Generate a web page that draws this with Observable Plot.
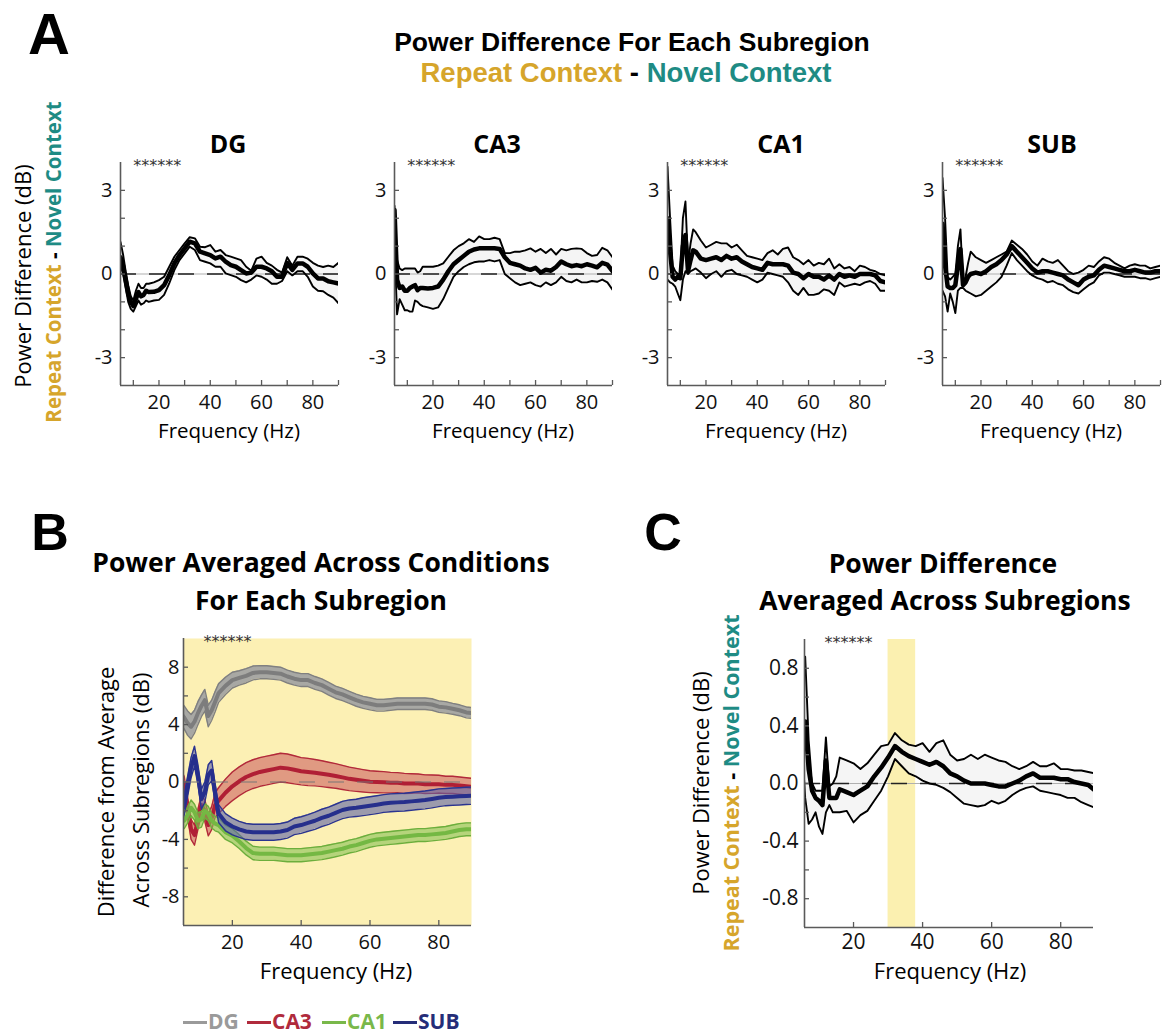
<!DOCTYPE html>
<html><head><meta charset="utf-8">
<script src="https://cdn.jsdelivr.net/npm/d3@7"></script>
<script src="https://cdn.jsdelivr.net/npm/@observablehq/plot@0.6"></script>
<style>
html,body{margin:0;padding:0;background:#fff;}
#fig{position:relative;width:1163px;height:1036px;overflow:hidden;font-family:"Open Sans",Lato,sans-serif;color:#000;}
.abs{position:absolute;white-space:nowrap;line-height:0.85;}
.letter{position:absolute;font-family:"Liberation Sans",Arial,sans-serif;font-weight:700;line-height:1.117;transform:translateX(-50%);}
</style></head>
<body><div id="fig"></div>
<script>
// ---------------- DATA ----------------
const freq = [5,6,7,8,9,10,11,12,13,14,15,16,
  18,20,22,24,26,28,30,32,34,36,38,40,
  42,44,46,48,50,52,54,56,58,60,62,64,
  66,68,70,72,74,76,78,80,82,84,86,88,90];

// Panel A: Repeat - Novel power difference (dB), mean and upper/lower bounds
const dgMean = [0.6,0.3,-0.2,-0.7,-1.0,-1.15,-0.9,-0.65,-0.8,-0.75,-0.6,-0.65,
  -0.64,-0.58,-0.4,-0.04,0.38,0.68,0.92,1.16,1.1,0.8,0.74,0.68,
  0.56,0.62,0.44,0.32,0.26,0.14,0.02,0.05,0.26,0.26,0.2,0.1,
  -0.1,-0.1,0.4,0.15,0.38,0.38,0.26,0.02,-0.16,-0.16,-0.26,-0.3,-0.34];
const dgUpper = [1.15,0.7,0.1,-0.4,-0.8,-0.95,-0.6,-0.35,-0.5,-0.5,-0.35,-0.35,
  -0.3,-0.22,-0.1,0.26,0.62,0.86,1.1,1.32,1.28,0.98,0.96,1.04,
  0.8,0.86,0.68,0.62,0.56,0.5,0.26,0.12,0.55,0.62,0.4,0.3,
  0.15,0.05,0.6,0.3,0.62,0.62,0.55,0.4,0.3,0.25,0.3,0.25,0.4];
const dgLower = [0.3,0.0,-0.5,-1.0,-1.25,-1.35,-1.15,-0.95,-1.1,-1.05,-0.95,-1.0,
  -0.95,-0.93,-0.75,-0.34,0.14,0.5,0.74,0.98,0.86,0.5,0.44,0.38,
  0.26,0.26,0.02,-0.04,-0.1,-0.22,-0.3,-0.2,-0.05,-0.1,-0.2,-0.35,
  -0.35,-0.25,0.1,-0.05,0.1,0.1,-0.1,-0.45,-0.6,-0.62,-0.75,-0.85,-1.05];

const ca3Mean = [2.3,-0.2,-0.5,-0.45,-0.6,-0.6,-0.5,-0.45,-0.4,-0.58,-0.5,-0.5,
  -0.52,-0.5,-0.45,-0.2,0.1,0.35,0.5,0.65,0.8,0.88,0.92,0.92,
  0.92,0.92,0.9,0.6,0.4,0.35,0.3,0.2,0.15,0.22,0.05,0.15,
  0.12,0.25,0.45,0.35,0.28,0.32,0.28,0.35,0.3,0.24,0.4,0.34,0.1];
const ca3Upper = [2.45,0.5,0.2,0.14,0.2,0.2,0.2,0.2,0.2,0.05,0.1,0.26,
  0.26,0.26,0.3,0.38,0.62,0.85,1.0,1.1,1.25,1.15,1.35,1.25,
  1.25,1.3,1.25,0.75,0.75,0.8,0.8,0.85,0.92,0.8,0.9,0.75,
  0.9,0.7,0.9,0.85,0.9,0.92,0.9,0.75,0.65,0.68,0.94,0.85,0.6];
const ca3Lower = [1.0,-1.45,-0.9,-1.1,-1.3,-1.3,-1.35,-1.35,-0.95,-1.0,-1.1,-1.15,
  -1.2,-1.25,-1.2,-0.9,-0.5,-0.1,0.1,0.25,0.35,0.42,0.45,0.45,
  0.5,0.45,0.5,0.0,-0.15,-0.3,-0.4,-0.35,-0.3,-0.4,-0.45,-0.3,
  -0.4,-0.3,-0.1,-0.25,-0.3,-0.2,-0.3,-0.3,-0.25,-0.28,-0.2,-0.3,-0.56];

const ca1Mean = [2.0,0.8,-0.1,-0.2,-0.1,-0.15,1.0,1.4,0.1,0.5,0.85,0.8,
  0.55,0.5,0.55,0.6,0.5,0.65,0.55,0.6,0.45,0.35,0.25,0.2,
  0.15,0.4,0.35,0.35,0.35,0.3,0.05,0.0,-0.15,0.0,-0.1,-0.1,
  -0.2,-0.05,-0.2,0.0,-0.1,-0.05,-0.1,0.0,0.0,0.0,-0.05,-0.25,-0.3];
const ca1Upper = [3.85,2.0,0.3,0.1,0.0,0.0,2.0,2.6,0.4,1.1,1.6,1.5,
  1.2,0.95,1.05,1.15,1.1,1.1,0.95,1.05,0.85,0.65,0.6,0.55,
  0.5,0.75,0.85,0.7,0.9,0.95,0.6,0.5,0.35,0.5,0.3,0.4,
  0.35,0.55,0.2,0.35,0.2,0.25,0.1,0.3,0.25,0.15,0.1,0.0,-0.05];
const ca1Lower = [-0.2,-0.3,-0.35,-0.45,-0.7,-0.94,-0.2,0.1,0.0,0.1,0.15,0.2,
  0.05,-0.15,0.0,0.1,-0.1,0.1,0.15,0.0,-0.05,-0.1,-0.2,-0.3,
  -0.2,0.05,0.0,-0.05,-0.1,-0.3,-0.6,-0.75,-0.5,-0.75,-0.75,-0.7,
  -0.55,-0.6,-0.75,-0.3,-0.45,-0.4,-0.35,-0.4,-0.3,-0.25,-0.35,-0.6,-0.6];

const subMean = [1.8,0.3,-0.45,-0.5,-0.5,-0.4,0.3,0.9,-0.4,-0.3,-0.1,0.0,
  0.05,0.0,0.1,0.25,0.35,0.5,0.7,1.0,0.8,0.6,0.4,0.2,
  0.05,0.1,0.1,0.05,0.0,-0.05,-0.2,-0.3,-0.4,-0.2,-0.1,-0.05,
  0.15,0.3,0.25,0.2,0.15,0.1,0.1,0.15,0.1,0.05,0.05,0.1,0.1];
const subUpper = [3.45,2.0,-0.1,-0.2,-0.1,0.0,1.0,1.6,-0.3,-0.1,0.4,0.8,
  0.6,0.5,0.4,0.5,0.6,0.7,0.8,1.2,1.05,0.9,0.7,0.45,
  0.3,0.55,0.45,0.4,0.5,0.3,0.1,0.0,0.05,0.15,0.3,0.25,
  0.45,0.6,0.55,0.4,0.3,0.2,0.3,0.35,0.3,0.3,0.2,0.25,0.3];
const subLower = [-0.6,-0.8,-1.35,-0.7,-1.0,-1.4,-0.6,-0.5,-0.5,-0.6,-0.65,-0.7,
  -0.8,-0.75,-0.6,-0.45,-0.3,-0.1,0.3,0.75,0.5,0.3,0.1,-0.05,
  -0.15,-0.2,-0.3,-0.25,-0.35,-0.4,-0.55,-0.65,-0.7,-0.55,-0.4,-0.3,
  -0.05,0.05,0.05,0.0,-0.05,-0.1,-0.1,-0.1,-0.15,-0.15,-0.2,-0.15,-0.1];

// Panel B: difference from average across subregions (dB), mean and band half-width
const dgB = [4.8,4.5,4.1,3.85,4.2,4.8,5.3,5.7,4.6,5.0,5.6,6.2,
  6.7,7.1,7.25,7.4,7.6,7.65,7.65,7.6,7.55,7.35,7.2,7.1,
  7.1,6.9,6.75,6.5,6.25,6.1,5.9,5.7,5.55,5.45,5.35,5.35,
  5.4,5.45,5.45,5.45,5.45,5.45,5.4,5.25,5.2,5.1,5.0,4.85,4.8];
const dgBErr = [0.8,0.8,0.85,0.85,0.8,0.8,0.75,0.75,0.75,0.7,0.7,0.65,
  0.6,0.55,0.5,0.5,0.48,0.46,0.45,0.45,0.45,0.45,0.45,0.45,
  0.45,0.45,0.44,0.44,0.43,0.43,0.42,0.42,0.42,0.42,0.41,0.41,
  0.4,0.4,0.4,0.4,0.4,0.4,0.4,0.4,0.4,0.38,0.38,0.38,0.38];
const ca3B = [0.2,-0.3,-1.8,-3.3,-3.7,-2.6,-1.6,-2.0,-3.0,-2.5,-1.6,-1.3,
  -0.75,-0.3,0.05,0.35,0.55,0.7,0.8,0.9,1.0,0.95,0.85,0.75,
  0.7,0.65,0.58,0.5,0.42,0.32,0.22,0.15,0.08,0.02,0.0,-0.02,
  -0.05,-0.05,-0.1,-0.1,-0.1,-0.15,-0.15,-0.15,-0.2,-0.2,-0.25,-0.3,-0.35];
const ca3BErr = [0.7,0.7,0.7,0.7,0.7,0.7,0.7,0.75,0.75,0.8,0.85,0.9,
  0.95,1.0,1.0,1.0,1.0,1.0,1.0,1.0,1.0,1.0,0.98,0.95,
  0.95,0.92,0.9,0.88,0.86,0.84,0.82,0.8,0.78,0.76,0.75,0.74,
  0.72,0.7,0.7,0.68,0.66,0.65,0.64,0.62,0.6,0.6,0.6,0.6,0.6];
const ca1B = [-2.7,-2.7,-2.3,-1.8,-2.1,-2.7,-2.6,-2.0,-2.2,-2.7,-2.9,-3.0,
  -3.5,-3.75,-4.15,-4.6,-4.95,-5.0,-5.0,-5.0,-5.05,-5.1,-5.1,-5.1,
  -5.05,-5.0,-4.95,-4.85,-4.75,-4.65,-4.5,-4.4,-4.25,-4.1,-4.0,-3.95,
  -3.9,-3.85,-3.8,-3.75,-3.7,-3.7,-3.65,-3.6,-3.55,-3.45,-3.35,-3.3,-3.3];
const ca1BErr = [0.55,0.55,0.55,0.55,0.55,0.55,0.55,0.5,0.5,0.5,0.5,0.5,
  0.5,0.5,0.48,0.48,0.47,0.46,0.46,0.46,0.46,0.46,0.46,0.46,
  0.46,0.46,0.46,0.46,0.46,0.45,0.45,0.45,0.45,0.45,0.45,0.45,
  0.45,0.45,0.45,0.45,0.45,0.45,0.45,0.45,0.45,0.45,0.45,0.45,0.45];
const subB = [-2.2,-1.6,-0.3,1.0,1.8,0.5,-1.2,-0.7,0.5,0.8,-0.8,-2.2,
  -2.8,-3.1,-3.3,-3.45,-3.5,-3.5,-3.5,-3.5,-3.45,-3.35,-3.1,-3.0,
  -2.85,-2.7,-2.5,-2.35,-2.15,-1.95,-1.85,-1.8,-1.72,-1.65,-1.58,-1.5,
  -1.45,-1.42,-1.4,-1.35,-1.3,-1.25,-1.18,-1.1,-1.05,-1.02,-1.0,-0.97,-0.95];
const subBErr = [0.7,0.7,0.7,0.7,0.7,0.7,0.7,0.7,0.7,0.7,0.65,0.62,
  0.6,0.58,0.56,0.56,0.56,0.56,0.56,0.56,0.56,0.56,0.57,0.58,
  0.58,0.6,0.6,0.6,0.6,0.6,0.6,0.6,0.62,0.62,0.62,0.62,
  0.62,0.62,0.62,0.62,0.62,0.62,0.62,0.62,0.6,0.6,0.6,0.6,0.6];

// Panel C: power difference averaged across subregions (dB)
const cMean = [0.42,0.43,0.1,-0.05,-0.1,-0.12,-0.15,0.16,-0.1,-0.1,-0.1,-0.04,
  -0.06,-0.08,-0.05,-0.02,0.05,0.11,0.18,0.26,0.22,0.19,0.17,0.15,
  0.13,0.15,0.12,0.07,0.05,0.02,0.0,0.0,0.0,-0.01,-0.02,-0.02,
  0.0,0.02,0.05,0.07,0.04,0.04,0.04,0.03,0.03,0.01,0.0,-0.01,-0.05];
const cUpper = [0.6,0.88,0.3,0.0,-0.05,-0.05,-0.05,0.32,-0.02,0.0,0.05,0.18,
  0.16,0.14,0.1,0.14,0.2,0.26,0.27,0.35,0.3,0.27,0.26,0.28,
  0.22,0.28,0.3,0.2,0.16,0.17,0.2,0.17,0.2,0.18,0.16,0.15,
  0.12,0.1,0.12,0.15,0.12,0.12,0.14,0.1,0.1,0.09,0.09,0.08,0.07];
const cLower = [0.3,-0.1,-0.28,-0.25,-0.2,-0.3,-0.35,-0.2,-0.15,-0.2,-0.2,-0.2,
  -0.19,-0.27,-0.22,-0.19,-0.12,-0.05,0.05,0.17,0.12,0.07,0.05,0.02,
  0.0,-0.01,-0.03,-0.06,-0.1,-0.14,-0.15,-0.16,-0.15,-0.12,-0.14,-0.12,
  -0.08,-0.05,-0.03,-0.02,-0.05,-0.06,-0.07,-0.08,-0.1,-0.1,-0.13,-0.15,-0.17];

// tick values / labels
const aXTickLabels = [20,40,60,80];
const aXTickMarks = [10,20,30,40,50,60,70,80,90];
const aYTickLabels = [-3,0,3];
const aYTickMarks = [-3,-2,-1,0,1,2,3];
const bXTicks = [20,40,60,80];
const bYTickLabels = [-8,-4,0,4,8];
const bYTickMarks = [-8,-6,-4,-2,0,2,4,6,8];
const cXTicks = [20,40,60,80];
const cYTickLabels = [-0.8,-0.4,0,0.4,0.8];
const cYTickMarks = [-0.8,-0.6,-0.4,-0.2,0,0.2,0.4,0.6,0.8];
const cHighlight = [{x1:30, x2:38}];
const starsA = [{f:10, t:"******"}];
const starsBC = [{f:11.6, t:"******"}];

// ---------------- DRAWING ----------------
const FONT = '"Open Sans", Lato, sans-serif';
const GOLD = "#D6A52B", TEAL = "#1E8B84";
const fig = document.getElementById("fig");

function addText(html, x, y, o = {}) {
  const d = document.createElement("div");
  d.className = "abs";
  d.innerHTML = html;
  d.style.left = x + "px"; d.style.top = y + "px";
  d.style.fontSize = (o.size || 19) + "px";
  d.style.fontWeight = o.weight || 400;
  d.style.color = o.color || "#000";
  if (o.family) d.style.fontFamily = o.family;
  d.style.transform = "translate(-50%,-50%)" + (o.rotate ? " rotate(-90deg)" : "");
  fig.appendChild(d);
  return d;
}
function addLetter(txt, cx, top, size) {
  const d = document.createElement("div");
  d.className = "letter";
  d.textContent = txt;
  d.style.left = cx + "px"; d.style.top = top + "px"; d.style.fontSize = size + "px";
  fig.appendChild(d);
}
function place(svg, left, top) {
  svg.style.position = "absolute";
  svg.style.left = left + "px"; svg.style.top = top + "px";
  svg.style.overflow = "visible";
  fig.appendChild(svg);
}
const ctxLabel = `<span style="color:${GOLD}">Repeat Context</span> - <span style="color:${TEAL}">Novel Context</span>`;

function axisMarks(xd, yd, W, H, xMarks, yMarks, clr) {
  const tx = (xd[1]-xd[0]) * 5 / W, ty = (yd[1]-yd[0]) * 5 / H;
  return [
    Plot.ruleX(xMarks, {y1: yd[0], y2: yd[0] + ty, stroke: clr, strokeWidth: 1.3}),
    Plot.ruleY(yMarks, {x1: xd[0], x2: xd[0] + tx, stroke: clr, strokeWidth: 1.3}),
    Plot.ruleX([xd[0]], {stroke: clr, strokeWidth: 1.6}),
    Plot.ruleY([yd[0]], {stroke: clr, strokeWidth: 1.6})
  ];
}
function starMark(stars, y) {
  return Plot.text(stars, {x: "f", y: () => y, text: "t", textAnchor: "start", fontSize: 16,
    fill: "#333", fontFamily: "DejaVu Sans", dy: 3, letterSpacing: "-2px"});
}

function diffPanel(o) {
  const rows = freq.map((f, i) => ({f, m: o.mean[i], u: o.up[i], l: o.lo[i]}));
  const svg = Plot.plot({
    width: o.ml + o.W + o.mr, height: o.mt + o.H + o.mb,
    marginLeft: o.ml, marginRight: o.mr, marginTop: o.mt, marginBottom: o.mb,
    style: {fontFamily: FONT, fontSize: o.font + "px", color: "#111", background: "transparent", overflow: "visible"},
    x: {domain: o.xd, ticks: o.xLab, tickSize: 0, tickPadding: o.xPad, tickFormat: d => String(d), label: null},
    y: {domain: o.yd, ticks: o.yLab, tickSize: 0, tickPadding: o.yPad, tickFormat: o.yFmt, label: null},
    marks: [
      ...(o.band ? [Plot.rect(o.band, {x1: "x1", x2: "x2", y1: () => o.yd[0], y2: () => o.yd[1], fill: "#FBF0B0"})] : []),
      Plot.areaY(rows, {x: "f", y1: "l", y2: "u", fill: "#f3f3f3", fillOpacity: 0.8, clip: true}),
      Plot.ruleY([0], {stroke: "#b0b0b0", strokeWidth: 1.2}),
      Plot.ruleY([0], {stroke: "#222", strokeWidth: 1.3, strokeDasharray: "16,13"}),
      Plot.line(rows, {x: "f", y: "u", stroke: "#000", strokeWidth: 1.9, clip: true}),
      Plot.line(rows, {x: "f", y: "l", stroke: "#000", strokeWidth: 1.9, clip: true}),
      Plot.line(rows, {x: "f", y: "m", stroke: "#000", strokeWidth: 4.5, clip: true}),
      ...axisMarks(o.xd, o.yd, o.W, o.H, o.xMarks, o.yMarks, "#5a5a5a"),
      starMark(o.stars, o.yd[1])
    ]
  });
  place(svg, o.left - o.ml, o.top - o.mt);
}

// ---- Panel A ----
const TITLE_FONT = '"Liberation Sans", Arial, sans-serif';
addLetter("A", 49, 2, 58);
addText("Power Difference For Each Subregion", 632, 42, {size: 26.5, weight: 700, family: TITLE_FONT});
addText(ctxLabel, 626, 72.5, {size: 27.5, weight: 700, family: TITLE_FONT});
addText("Power Difference (dB)", 22, 276, {size: 22, rotate: true});
addText(ctxLabel, 54, 262, {size: 20.5, weight: 700, rotate: true});

const aPanels = [
  {name: "DG", mean: dgMean, up: dgUpper, lo: dgLower, left: 120, tc: 228},
  {name: "CA3", mean: ca3Mean, up: ca3Upper, lo: ca3Lower, left: 394, tc: 497},
  {name: "CA1", mean: ca1Mean, up: ca1Upper, lo: ca1Lower, left: 667, tc: 781},
  {name: "SUB", mean: subMean, up: subUpper, lo: subLower, left: 942, tc: 1052}
];
for (const p of aPanels) {
  diffPanel({mean: p.mean, up: p.up, lo: p.lo, left: p.left, top: 162, W: 218, H: 223,
    ml: 50, mr: 4, mt: 10, mb: 36, font: 20,
    xd: [5, 90], yd: [-4, 4], xLab: aXTickLabels, yLab: aYTickLabels,
    xMarks: aXTickMarks, yMarks: aYTickMarks, xPad: 9, yPad: 8, yFmt: d => String(d),
    stars: starsA});
  addText(p.name, p.tc, 144, {size: 25, weight: 700});
  addText("Frequency (Hz)", p.left + 109, 431, {size: 20.5});
}

// ---- Panel B ----
addLetter("B", 50, 503, 52);
addText("Power Averaged Across Conditions", 321, 562, {size: 26.5, weight: 700});
addText("For Each Subregion", 321, 600, {size: 26.5, weight: 700});
addText("Difference from Average", 105, 792, {size: 22, rotate: true});
addText("Across Subregions (dB)", 140, 790, {size: 22, rotate: true});
addText("Frequency (Hz)", 336, 970, {size: 22});

const bSeries = [
  {mean: dgB, err: dgBErr, line: "#7d7d7d", edge: "#808080", fill: "#a3a3a3", op: 0.95},
  {mean: ca3B, err: ca3BErr, line: "#B01F35", edge: "#B22A3A", fill: "#c9545a", op: 0.55},
  {mean: ca1B, err: ca1BErr, line: "#74B843", edge: "#6cae3c", fill: "#86c255", op: 0.6},
  {mean: subB, err: subBErr, line: "#262F8C", edge: "#2b3490", fill: "#5b63a6", op: 0.6}
];
{
  const xd = [5.8, 89.5], yd = [-10, 10], W = 288, H = 287, ml = 50, mr = 4, mt = 10, mb = 34;
  const marks = [Plot.frame({fill: "#FCF0B4", stroke: "none"})];
  for (const s of bSeries) {
    const rows = freq.map((f, i) => ({f, m: s.mean[i], lo: s.mean[i] - s.err[i], hi: s.mean[i] + s.err[i]}));
    marks.push(
      Plot.areaY(rows, {x: "f", y1: "lo", y2: "hi", fill: s.fill, fillOpacity: s.op, clip: true}),
      Plot.line(rows, {x: "f", y: "lo", stroke: s.edge, strokeWidth: 1.4, clip: true}),
      Plot.line(rows, {x: "f", y: "hi", stroke: s.edge, strokeWidth: 1.4, clip: true}),
      Plot.line(rows, {x: "f", y: "m", stroke: s.line, strokeWidth: 4, clip: true})
    );
  }
  marks.push(
    Plot.ruleY([0], {stroke: "#777", strokeWidth: 1.2, strokeDasharray: "16,13"}),
    ...axisMarks(xd, yd, W, H, bXTicks, bYTickMarks, "#5a5a5a"),
    starMark(starsBC, yd[1])
  );
  const svg = Plot.plot({
    width: ml + W + mr, height: mt + H + mb, marginLeft: ml, marginRight: mr, marginTop: mt, marginBottom: mb,
    style: {fontFamily: FONT, fontSize: "20px", color: "#111", background: "transparent", overflow: "visible"},
    x: {domain: xd, ticks: bXTicks, tickSize: 0, tickPadding: 9, tickFormat: d => String(d), label: null},
    y: {domain: yd, ticks: bYTickLabels, tickSize: 0, tickPadding: 4, tickFormat: d => String(d), label: null},
    marks
  });
  place(svg, 183 - ml, 638 - mt);
}

// ---- Panel C ----
addLetter("C", 663, 503, 52);
addText("Power Difference", 943, 563, {size: 26.5, weight: 700});
addText("Averaged Across Subregions", 945, 600, {size: 26.5, weight: 700});
addText("Power Difference (dB)", 700, 783, {size: 22, rotate: true});
addText(ctxLabel, 731, 783, {size: 21.5, weight: 700, rotate: true});
addText("Frequency (Hz)", 950, 970, {size: 22});
diffPanel({mean: cMean, up: cUpper, lo: cLower, left: 804, top: 639, W: 289, H: 288,
  ml: 60, mr: 4, mt: 10, mb: 34, font: 21,
  xd: [5.8, 89.5], yd: [-1, 1], xLab: cXTicks, yLab: cYTickLabels,
  xMarks: cXTicks, yMarks: cYTickMarks, xPad: 7, yPad: 6, yFmt: d => d.toFixed(1),
  stars: starsBC, band: cHighlight});

// ---- Legend ----
const legend = [
  {name: "DG", color: "#9a9a9a", x: 183},
  {name: "CA3", color: "#B02A3C", x: 247},
  {name: "CA1", color: "#79B84A", x: 322},
  {name: "SUB", color: "#252D78", x: 393}
];
for (const l of legend) {
  const ln = document.createElement("div");
  ln.className = "abs";
  ln.style.left = l.x + "px"; ln.style.top = "1021px";
  ln.style.width = "24px"; ln.style.height = "3px"; ln.style.background = l.color;
  fig.appendChild(ln);
  const t = document.createElement("div");
  t.className = "abs";
  t.textContent = l.name;
  t.style.left = (l.x + 25) + "px"; t.style.top = "1022px";
  t.style.transform = "translateY(-50%)";
  t.style.fontSize = "21px"; t.style.fontWeight = 700; t.style.color = l.color;
  fig.appendChild(t);
}
</script>
</body></html>
